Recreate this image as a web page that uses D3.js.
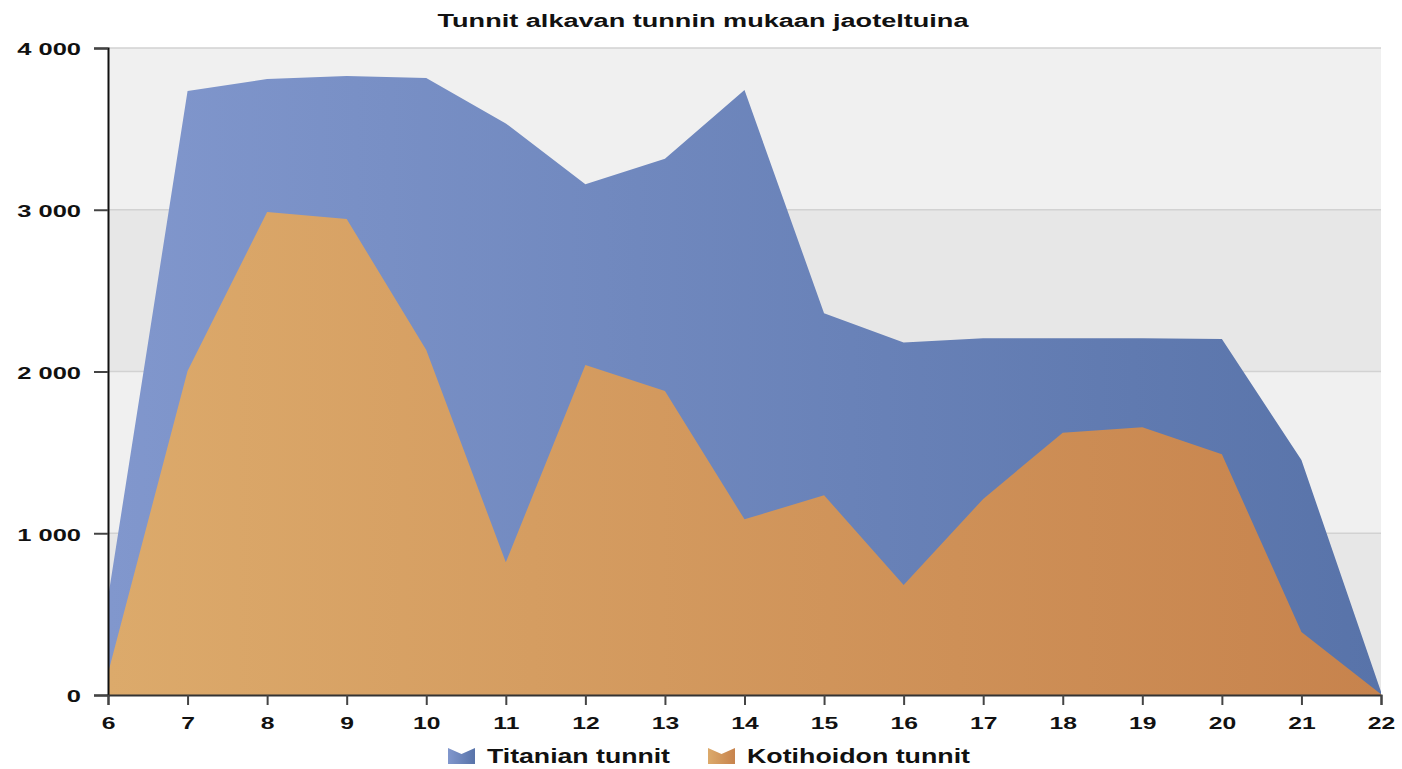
<!DOCTYPE html>
<html>
<head>
<meta charset="utf-8">
<script src="https://cdn.jsdelivr.net/npm/d3@7"></script>
<style>
  body { margin: 0; background: #fff; }
  svg text { font-family: "Liberation Sans", Arial, sans-serif; font-weight: bold; fill: #111; }
</style>
</head>
<body>
<div id="chart"></div>
<script>
const hours = [6, 7, 8, 9, 10, 11, 12, 13, 14, 15, 16, 17, 18, 19, 20, 21, 22];
const titaniaHours = [600, 3734, 3808, 3827, 3815, 3534, 3157, 3316, 3740, 2360, 2180, 2205, 2205, 2205, 2201, 1453, 20];
const homeCareHours = [135, 2003, 2986, 2943, 2133, 820, 2040, 1879, 1086, 1235, 680, 1212, 1622, 1655, 1488, 389, 5];
const yTicks = [0, 1000, 2000, 3000, 4000];
const seriesNames = ["Titanian tunnit", "Kotihoidon tunnit"];

// the original text looks horizontally stretched, so widen glyphs
function stretch(sel, factor) {
    sel.each(function() {
        const len = this.getComputedTextLength();
        d3.select(this)
            .attr("textLength", len * factor)
            .attr("lengthAdjust", "spacingAndGlyphs");
    });
}

function drawChart() {
    const W = 1402, H = 769;
    const margin = { top: 48, right: 21, bottom: 74, left: 108 };
    const width = W - margin.left - margin.right;
    const height = H - margin.top - margin.bottom;

    const svg = d3.select("#chart").append("svg")
        .attr("width", W)
        .attr("height", H);

    const defs = svg.append("defs");
    const gradients = [
        { id: "gradBlue", from: "#8197cd", to: "#5873a9" },
        { id: "gradOrange", from: "#dcaa6b", to: "#c7834d" }
    ];
    gradients.forEach(g => {
        const lg = defs.append("linearGradient")
            .attr("id", g.id)
            .attr("x1", "0%").attr("x2", "100%")
            .attr("y1", "0%").attr("y2", "0%");
        lg.append("stop").attr("offset", "0%").attr("stop-color", g.from);
        lg.append("stop").attr("offset", "100%").attr("stop-color", g.to);
    });
    // user-space gradients for the areas so both span the plot width
    gradients.forEach(g => {
        const lg = defs.append("linearGradient")
            .attr("id", g.id + "Plot")
            .attr("gradientUnits", "userSpaceOnUse")
            .attr("x1", 0).attr("x2", width)
            .attr("y1", 0).attr("y2", 0);
        lg.append("stop").attr("offset", "0%").attr("stop-color", g.from);
        lg.append("stop").attr("offset", "100%").attr("stop-color", g.to);
    });

    const g = svg.append("g")
        .attr("transform", `translate(${margin.left},${margin.top})`);

    const x = d3.scaleLinear()
        .domain([d3.min(hours), d3.max(hours)])
        .range([0, width]);

    const y = d3.scaleLinear()
        .domain([0, 4000])
        .range([height, 0]);

    // Alternating bands
    for (let i = 0; i < yTicks.length - 1; i++) {
        g.append("rect")
            .attr("x", 0)
            .attr("y", y(yTicks[i + 1]))
            .attr("width", width)
            .attr("height", y(yTicks[i]) - y(yTicks[i + 1]))
            .attr("fill", i % 2 === 0 ? "#e7e7e7" : "#f0f0f0");
    }

    // Gridlines
    g.selectAll(".grid")
        .data(yTicks.slice(1))
        .enter()
        .append("line")
        .attr("x1", 0)
        .attr("x2", width)
        .attr("y1", d => y(d))
        .attr("y2", d => y(d))
        .attr("stroke", "#d2d2d2")
        .attr("stroke-width", 1.5);

    const areaOf = vals => d3.area()
        .x((d, i) => x(hours[i]))
        .y0(y(0))
        .y1(d => y(d))(vals);

    g.append("path")
        .attr("d", areaOf(titaniaHours))
        .attr("fill", "url(#gradBluePlot)");

    g.append("path")
        .attr("d", areaOf(homeCareHours))
        .attr("fill", "url(#gradOrangePlot)");

    // Axes
    const yAxis = g.append("g")
        .call(d3.axisLeft(y)
            .tickValues(yTicks)
            .tickSize(14)
            .tickPadding(13)
            .tickFormat(d => d3.format(",")(d).replace(/,/g, " ")));
    yAxis.select(".domain").attr("stroke", "#111").attr("stroke-width", 2);
    yAxis.selectAll(".tick line").attr("stroke", "#444").attr("stroke-width", 2);
    yAxis.selectAll("text")
        .style("font-size", "17px")
        .attr("dy", "0.4em")
        .attr("fill", "#111")
        .call(stretch, 1.5);

    const xAxis = g.append("g")
        .attr("transform", `translate(0,${height})`)
        .call(d3.axisBottom(x)
            .tickValues(hours)
            .tickSize(10)
            .tickPadding(12)
            .tickFormat(d3.format("d")));
    xAxis.select(".domain").attr("stroke", "#333").attr("stroke-width", 2);
    xAxis.selectAll(".tick line").attr("stroke", "#444").attr("stroke-width", 2);
    xAxis.selectAll("text")
        .style("font-size", "17px")
        .attr("fill", "#111")
        .call(stretch, 1.45);

    // Title
    svg.append("text")
        .attr("x", 703)
        .attr("y", 27)
        .attr("text-anchor", "middle")
        .style("font-size", "18px")
        .text("Tunnit alkavan tunnin mukaan jaoteltuina")
        .attr("textLength", 531)
        .attr("lengthAdjust", "spacingAndGlyphs");

    // Legend
    const legend = svg.append("g").attr("transform", "translate(448,748)");
    const legendX = [0, 260];
    const legendW = [183, 223];
    seriesNames.forEach((name, i) => {
        const item = legend.append("g").attr("transform", `translate(${legendX[i]},0)`);
        item.append("path")
            .attr("d", "M0,0 L13.5,6 L27,0 L27,16 L0,16 Z")
            .attr("fill", i === 0 ? "url(#gradBlue)" : "url(#gradOrange)");
        item.append("text")
            .attr("x", 39)
            .attr("y", 15)
            .style("font-size", "20px")
            .text(name)
            .attr("textLength", legendW[i])
            .attr("lengthAdjust", "spacingAndGlyphs");
    });
}

drawChart();
</script>
</body>
</html>
